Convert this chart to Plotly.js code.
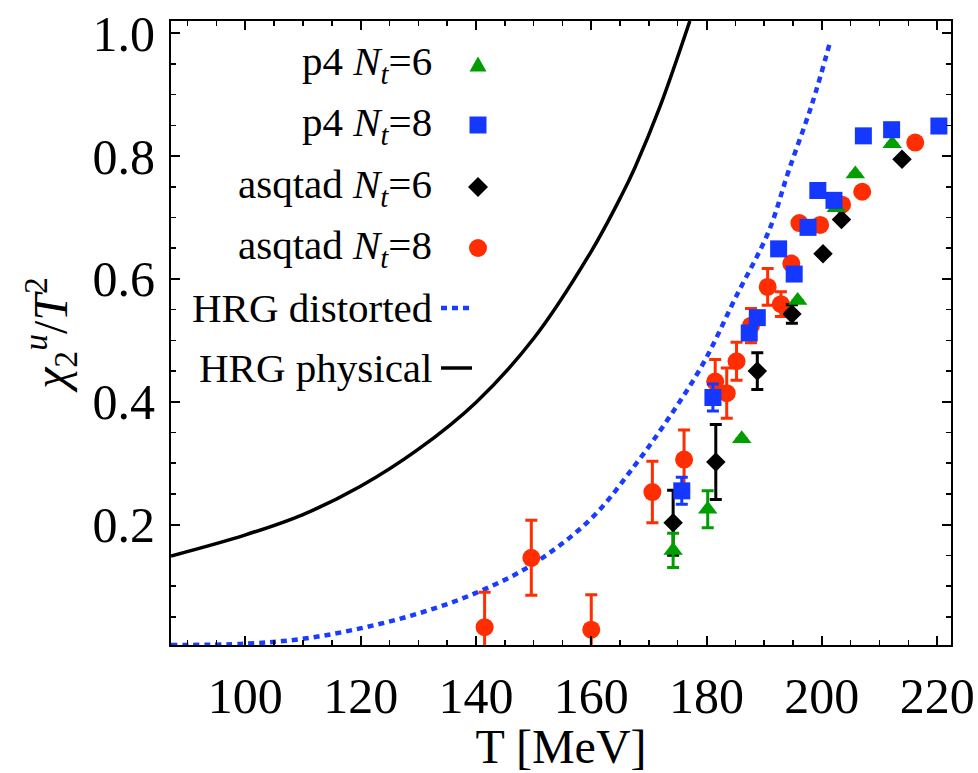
<!DOCTYPE html>
<html>
<head>
<meta charset="utf-8">
<script src="https://cdn.plot.ly/plotly-3.0.1.min.js"></script>
<style>html,body{margin:0;padding:0;background:#fff;}#chart{width:978px;height:773px;}</style>
</head>
<body>
<div id="chart"></div>
<script>
// ---- data ----
const T_p4_6 = [174.2, 180.2, 186.1, 195.8, 202.5, 205.8, 212.2];
const v_p4_6 = [0.158, 0.225, 0.340, 0.565, 0.716, 0.771, 0.820];
const e_p4_6 = [0.028, 0.030, 0, 0, 0, 0, 0];

const T_p4_8 = [175.7, 181.1, 187.4, 188.8, 192.5, 195.2, 197.6, 199.3, 202.1, 207.2, 212.1, 220.3];
const v_p4_8 = [0.255, 0.407, 0.512, 0.537, 0.649, 0.608, 0.684, 0.744, 0.728, 0.833, 0.843, 0.849];
const e_p4_8 = [0.022, 0.022, 0, 0, 0, 0, 0, 0, 0, 0, 0, 0];

const T_asq_6 = [174.2, 181.6, 188.8, 194.8, 200.2, 203.4, 213.9];
const v_asq_6 = [0.203, 0.302, 0.450, 0.543, 0.641, 0.697, 0.795];
const e_asq_6 = [0.053, 0.061, 0.030, 0.015, 0, 0, 0];

const T_asq_8 = [141.5, 149.6, 160.0, 170.6, 176.1, 181.5, 183.5, 185.2, 187.7, 190.6, 192.9, 194.7, 196.1, 199.7, 203.5, 207.0, 216.2];
const v_asq_8 = [0.033, 0.146, 0.029, 0.253, 0.306, 0.433, 0.414, 0.466, 0.524, 0.587, 0.559, 0.625, 0.691, 0.688, 0.721, 0.742, 0.822];
const e_asq_8 = [0.057, 0.061, 0.057, 0.050, 0.048, 0.036, 0.041, 0.031, 0.028, 0.030, 0.020, 0, 0, 0, 0, 0, 0];

const T_hrg_phys = [87.1, 99.9, 109.9, 119.9, 129.9, 140.0, 150.0, 160.0, 165.2, 167.6, 171.9, 177.1];
const v_hrg_phys = [0.149, 0.183, 0.216, 0.262, 0.322, 0.399, 0.503, 0.645, 0.735, 0.782, 0.880, 1.02];

const T_hrg_dist = [87.1, 99.9, 109.9, 119.9, 129.9, 139.8, 149.6, 160.0, 167.6, 173.4, 179.4, 185.0, 190.8, 194.2, 198.3, 201.4];
const v_hrg_dist = [0.004, 0.006, 0.014, 0.031, 0.055, 0.088, 0.134, 0.210, 0.297, 0.373, 0.462, 0.569, 0.678, 0.775, 0.885, 0.985];

const xTicks = [100, 120, 140, 160, 180, 200, 220];
const yTicks = [0.2, 0.4, 0.6, 0.8, 1.0];

const legendLabels = ['p4 <i>N<sub>t</sub></i>=6', 'p4 <i>N<sub>t</sub></i>=8',
  'asqtad <i>N<sub>t</sub></i>=6', 'asqtad <i>N<sub>t</sub></i>=8',
  'HRG distorted', 'HRG physical'];

// ---- styling ----
const GREEN = '#009e00', BLUE = '#1438ff', BLACK = '#000000', RED = '#ff2d00', DBLUE = '#1a3cff';
const FONT = 'Liberation Serif, Times New Roman, serif';

function pts(T, v, e, color, symbol, size) {
  return {
    x: T, y: v, type: 'scatter', mode: 'markers', showlegend: false,
    marker: {symbol: symbol, size: size, color: color, line: {width: 0}},
    error_y: {type: 'data', array: e, visible: true, color: color, thickness: 3, width: 6}
  };
}

const traces = [
  {x: T_hrg_phys, y: v_hrg_phys, type: 'scatter', mode: 'lines', showlegend: false,
   line: {color: BLACK, width: 3.5, shape: 'spline'}},
  {x: T_hrg_dist, y: v_hrg_dist, type: 'scatter', mode: 'lines', showlegend: false,
   line: {color: DBLUE, width: 4.5, dash: '6px,5px', shape: 'spline'}},
  pts(T_asq_8, v_asq_8, e_asq_8, RED, 'circle', 18),
  pts(T_asq_6, v_asq_6, e_asq_6, BLACK, 'diamond', 15),
  pts(T_p4_6, v_p4_6, e_p4_6, GREEN, 'triangle-up', 17),
  pts(T_p4_8, v_p4_8, e_p4_8, BLUE, 'square', 17)
];

// ---- manual legend (text left of key, as in reference) ----
const L = 171, R = 27, TOP = 21, B = 128, W = 978, H = 773;
const PW = W - L - R, PH = H - TOP - B;
const px = x => (x - L) / PW;
const py = y => (H - B - y) / PH;
const rowY = [64, 125, 187, 248, 308, 368];
const keyX = 478;

const annotations = legendLabels.map((t, i) => ({
  text: t, xref: 'paper', yref: 'paper', x: px(434), y: py(rowY[i]),
  xanchor: 'right', yanchor: 'middle', showarrow: false,
  font: {family: FONT, size: 41, color: '#000'}
}));

const shapes = [];
(function(){
  const cy = rowY[0], h = 15, w = 17;
  shapes.push({type: 'path', xref: 'paper', yref: 'paper',
    path: `M${px(keyX - w/2)},${py(cy + h/2)} L${px(keyX + w/2)},${py(cy + h/2)} L${px(keyX)},${py(cy - h/2)} Z`,
    fillcolor: GREEN, line: {width: 0}});
})();
shapes.push({type: 'rect', xref: 'paper', yref: 'paper', x0: px(keyX - 8.5), x1: px(keyX + 8.5),
  y0: py(rowY[1] + 8.5), y1: py(rowY[1] - 8.5), fillcolor: BLUE, line: {width: 0}});
(function(){
  const cy = rowY[2], r = 10;
  shapes.push({type: 'path', xref: 'paper', yref: 'paper',
    path: `M${px(keyX - r)},${py(cy)} L${px(keyX)},${py(cy - r)} L${px(keyX + r)},${py(cy)} L${px(keyX)},${py(cy + r)} Z`,
    fillcolor: BLACK, line: {width: 0}});
})();
shapes.push({type: 'circle', xref: 'paper', yref: 'paper', x0: px(keyX - 9), x1: px(keyX + 9),
  y0: py(rowY[3] + 9), y1: py(rowY[3] - 9), fillcolor: RED, line: {width: 0}});
shapes.push({type: 'line', xref: 'paper', yref: 'paper', x0: px(441), x1: px(472),
  y0: py(rowY[4]), y1: py(rowY[4]), line: {color: DBLUE, width: 4.5, dash: '6px,5px'}});
shapes.push({type: 'line', xref: 'paper', yref: 'paper', x0: px(441), x1: px(472),
  y0: py(rowY[5]), y1: py(rowY[5]), line: {color: BLACK, width: 3.5}});

const axisCommon = {
  showgrid: false, zeroline: false, showline: true, linecolor: '#000', linewidth: 2,
  mirror: 'allticks', ticks: 'inside', ticklen: 9, tickwidth: 2, tickcolor: '#000',
  tickfont: {family: FONT, size: 50, color: '#000'}
};

const layout = {
  width: W, height: H,
  margin: {l: L, r: R, t: TOP, b: B, pad: 0},
  paper_bgcolor: '#fff', plot_bgcolor: '#fff',
  xaxis: Object.assign({}, axisCommon, {
    range: [87.1, 222.4], tickmode: 'array', tickvals: xTicks, ticktext: xTicks.map(String),
    minor: {dtick: 5, tick0: 0, ticks: 'inside', ticklen: 5, tickwidth: 1.5, tickcolor: '#000', showgrid: false},
    ticklabelstandoff: 6,
    title: {text: 'T [MeV]', font: {family: FONT, size: 48, color: '#000'}, standoff: 10}
  }),
  yaxis: Object.assign({}, axisCommon, {
    range: [0.004, 1.02], tickmode: 'array', tickvals: yTicks, ticktext: yTicks.map(v => v.toFixed(1)),
    minor: {dtick: 0.05, tick0: 0, ticks: 'inside', ticklen: 5, tickwidth: 1.5, tickcolor: '#000', showgrid: false},
    ticklabelstandoff: 4,
    title: {text: '<i>χ</i><sub>2</sub><sup><i>u</i></sup>/<i>T</i><sup>2</sup>', font: {family: FONT, size: 48, color: '#000'}, standoff: 10}
  }),
  annotations: annotations,
  shapes: shapes,
  showlegend: false
};

Plotly.newPlot('chart', traces, layout, {displayModeBar: false, staticPlot: true});
</script>
</body>
</html>
